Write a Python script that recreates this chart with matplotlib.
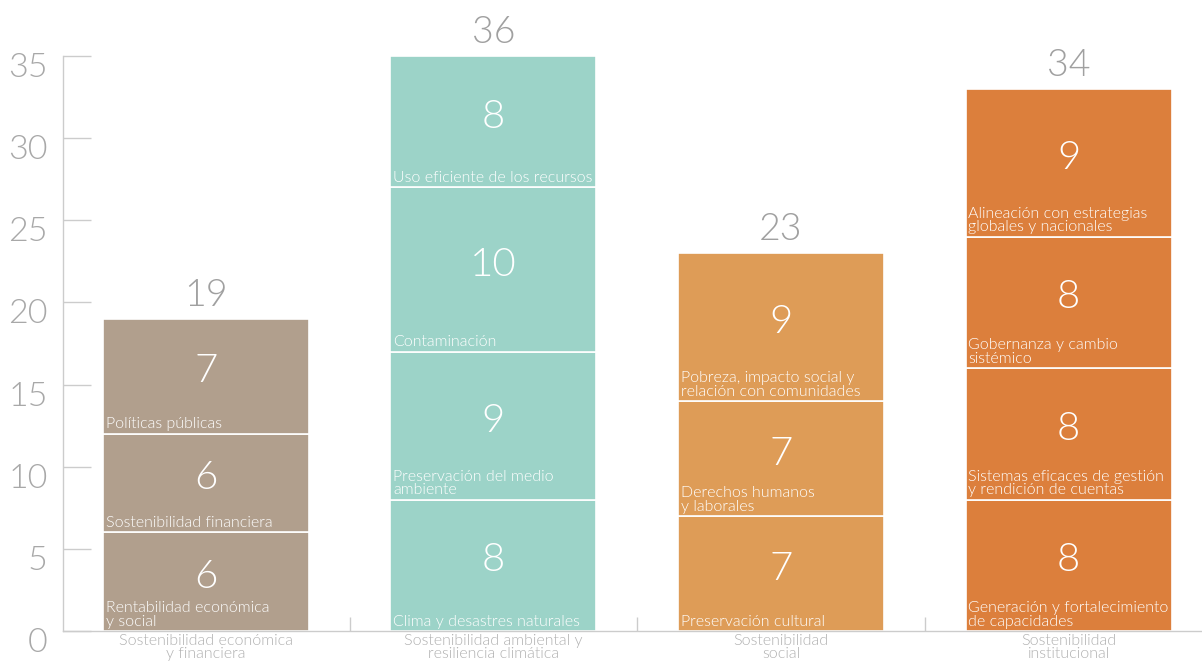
import matplotlib.pyplot as plt
from matplotlib.transforms import ScaledTranslation

categories = ['Sostenibilidad económica\ny financiera',
              'Sostenibilidad ambiental y\nresiliencia climática',
              'Sostenibilidad\nsocial',
              'Sostenibilidad\ninstitucional']
totals = [19, 36, 23, 34]
# segment values, bottom to top
segments = [[6, 6, 7],
            [8, 9, 10, 8],
            [7, 7, 9],
            [8, 8, 8, 9]]
seg_labels = [['Rentabilidad económica\ny social', 'Sostenibilidad financiera', 'Políticas públicas'],
              ['Clima y desastres naturales', 'Preservación del medio\nambiente', 'Contaminación',
               'Uso eficiente de los recursos'],
              ['Preservación cultural', 'Derechos humanos\ny laborales',
               'Pobreza, impacto social y\nrelación con comunidades'],
              ['Generación y fortalecimiento\nde capacidades', 'Sistemas eficaces de gestión\ny rendición de cuentas',
               'Gobernanza y cambio\nsistémico', 'Alineación con estrategias\nglobales y nacionales']]
colors = ['#b19f8d', '#9cd3c8', '#de9c57', '#dc7f3c']

plt.rcParams['font.family'] = ['Lato', 'DejaVu Sans']
plt.rcParams['font.weight'] = 300

fig = plt.figure(figsize=(12.02, 6.62), dpi=100)
ax = fig.add_axes([63 / 1202, 1 - 631 / 662, 1 - 63 / 1202, (631 - 56) / 662])

width = 0.7165
for i in range(len(categories)):
    base = 0
    for j in range(len(segments[i])):
        v = segments[i][j]
        ax.bar(i, v, width, bottom=base, color=colors[i], edgecolor='white', linewidth=1.2, zorder=1)
        ax.text(i - width / 2 + 0.01, base + 0.15, seg_labels[i][j], color='white', fontsize=11.5,
                fontweight=300, ha='left', va='bottom', linespacing=0.95)
        ax.text(i, base + v / 2 + 0.3, str(v), color='white', fontsize=29, fontweight=300,
                ha='center', va='center')
        base += v
    ax.text(i, base + 0.35, str(totals[i]), color='#a0a0a0', fontsize=27, fontweight=300,
            ha='center', va='bottom', clip_on=False)

ax.set_xlim(-0.497, 3.464)
ax.set_ylim(0, 35)
ax.set_yticks(range(0, 36, 5))
ax.tick_params(axis='y', direction='in', length=20, width=1, color='#cccccc', pad=11,
               labelsize=24.5, labelcolor='#a8a8a8')
shift = ScaledTranslation(0, -9 / 100, fig.dpi_scale_trans)
for lab in ax.get_yticklabels():
    lab.set_fontweight(300)
    lab.set_transform(lab.get_transform() + shift)
ax.set_xticks(range(len(categories)))
ax.set_xticklabels(categories, fontsize=11.5, color='#b0b0b0', fontweight=300, linespacing=0.9)
ax.tick_params(axis='x', which='major', length=0, pad=2)
ax.set_xticks([0.5, 1.5, 2.5], minor=True)
ax.tick_params(axis='x', which='minor', direction='in', length=10, width=1, color='#cccccc')

for s in ['top', 'right']:
    ax.spines[s].set_visible(False)
for s in ['left', 'bottom']:
    ax.spines[s].set_color('#cccccc')
    ax.spines[s].set_linewidth(1)

plt.savefig('out.png', dpi=100)
